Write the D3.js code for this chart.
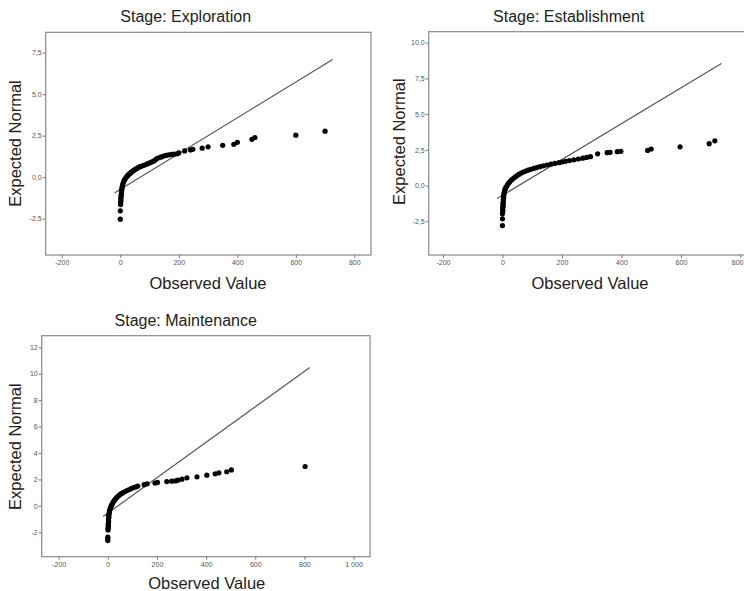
<!DOCTYPE html>
<html>
<head>
<meta charset="utf-8">
<script src="https://cdn.jsdelivr.net/npm/d3@7"></script>
<style>
  body { margin: 0; background: #fff; }
  svg { display: block; font-family: "Liberation Sans", Arial, sans-serif; }
</style>
</head>
<body>
<svg id="chart" width="744" height="591"></svg>
<script>
// observed value, expected normal
let exploration = [
  [0,-2.53],[0,-2.03],[1,-1.65],[1,-1.55],[2,-1.45],[2,-1.35],[2,-1.25],[3,-1.15],[3,-1.05],
  [4,-0.95],[4,-0.85],[5,-0.75],[6,-0.65],[7,-0.55],[8,-0.45],[10,-0.35],[12,-0.25],[14,-0.17],
  [17,-0.1],[20,-0.02],[23,0.05],[26,0.12],[30,0.18],[34,0.24],[38,0.3],[42,0.36],[47,0.42],
  [52,0.48],[58,0.54],[64,0.6],[70,0.65],[78,0.7],[85,0.75],[92,0.8],[100,0.86],[108,0.92],
  [115,0.98],[120,1.05],[125,1.12],[132,1.17],[140,1.22],[148,1.27],[156,1.31],[165,1.34],
  [175,1.37],[185,1.39],[195,1.41],[200,1.47],[220,1.58],[240,1.64],[248,1.68],[280,1.75],
  [300,1.83],[350,1.92],[388,1.98],[400,2.1],[450,2.28],[460,2.39],[600,2.53],[700,2.77]
];
let establishment = [
  [0,-2.8],[0,-2.33],[0,-1.98],[1,-1.8],[1,-1.68],[1,-1.56],[2,-1.44],[2,-1.32],[2,-1.2],
  [3,-1.08],[3,-0.96],[4,-0.84],[4,-0.72],[5,-0.6],[6,-0.48],[7,-0.36],[9,-0.25],[11,-0.15],
  [14,-0.05],[17,0.05],[20,0.15],[24,0.25],[28,0.35],[33,0.44],[38,0.53],[44,0.62],[50,0.72],
  [56,0.8],[63,0.88],[70,0.95],[78,1.02],[86,1.08],[95,1.14],[105,1.2],[115,1.26],[126,1.32],
  [138,1.38],[150,1.44],[163,1.5],[176,1.55],[190,1.6],[200,1.65],[212,1.7],[225,1.75],
  [240,1.8],[255,1.86],[270,1.92],[283,1.97],[296,2.02],[320,2.22],[352,2.3],[362,2.33],
  [386,2.37],[398,2.4],[488,2.46],[500,2.56],[597,2.71],[695,2.93],[714,3.13]
];
let maintenance = [
  [0,-2.63],[0,-2.5],[0,-2.37],[1,-1.82],[1,-1.7],[2,-1.58],[2,-1.46],[2,-1.34],[3,-1.22],
  [3,-1.1],[3,-0.98],[4,-0.86],[4,-0.74],[5,-0.62],[6,-0.5],[7,-0.38],[9,-0.26],[11,-0.15],
  [13,-0.04],[16,0.07],[19,0.18],[22,0.29],[26,0.4],[30,0.5],[35,0.6],[40,0.7],[46,0.8],
  [53,0.9],[60,0.98],[68,1.06],[76,1.14],[85,1.22],[95,1.3],[105,1.38],[115,1.44],[122,1.5],
  [148,1.6],[160,1.67],[192,1.72],[202,1.77],[240,1.84],[260,1.87],[275,1.89],[285,1.94],
  [302,2.02],[322,2.12],[363,2.2],[403,2.32],[437,2.42],[452,2.5],[484,2.58],[503,2.72],[803,2.98]
];

// reference lines (end points)
let lineExploration   = [[-20,-0.95],[726,7.09]];
let lineEstablishment = [[-18,-0.91],[736,8.54]];
let lineMaintenance   = [[-19,-0.81],[822,10.48]];

// ticks
let xTicks12 = [-200,0,200,400,600,800];
let xTicks3  = [-200,0,200,400,600,800,1000];
let yTicks1  = [-2.5,0,2.5,5,7.5];
let yTicks2  = [-2.5,0,2.5,5,7.5,10];
let yTicks3  = [-2,0,2,4,6,8,10,12];

let titles = ["Stage: Exploration","Stage: Establishment","Stage: Maintenance"];

let chart = d3.select("#chart");

let commaFmt = d => d3.format(".1f")(d).replace(".", ",").replace("−", "-");
let intFmt = d => (Math.abs(d) >= 1000 ? d3.format(",")(d).replace(",", " ") : String(d));

function drawPanel(cfg){
    let g = chart.append("g");

    let x = d3.scaleLinear().domain(cfg.xDomain).range([cfg.left, cfg.right]);
    let y = d3.scaleLinear().domain(cfg.yDomain).range([cfg.bottom, cfg.top]);

    // frame
    g.append("rect")
        .attr("x", cfg.left).attr("y", cfg.top)
        .attr("width", cfg.right - cfg.left).attr("height", cfg.bottom - cfg.top)
        .attr("fill", "none").attr("stroke", "#8a8a8a").attr("stroke-width", 1.2);

    // x axis
    let xAxis = d3.axisBottom(x).tickValues(cfg.xTicks).tickSize(3).tickPadding(2).tickFormat(intFmt);
    let xg = g.append("g").attr("transform", "translate(0," + cfg.bottom + ")").call(xAxis);
    xg.select(".domain").remove();

    // y axis
    let yAxis = d3.axisLeft(y).tickValues(cfg.yTicks).tickSize(3).tickPadding(1).tickFormat(cfg.yFmt);
    let yg = g.append("g").attr("transform", "translate(" + cfg.left + ",0)").call(yAxis);
    yg.select(".domain").remove();

    [xg, yg].forEach(a => {
        a.attr("fill", null);
        a.selectAll(".tick line").style("stroke", "#777");
        a.selectAll(".tick text").style("fill", "#555").style("font-size", "7px")
            .style("font-family", "'Liberation Sans', Arial, sans-serif");
    });

    // keep the last x label inside the page
    xg.selectAll(".tick text").each(function(d){
        let px = x(d);
        if (px + 8 > 744) d3.select(this).attr("text-anchor", "end").attr("x", 743 - px);
    });

    // reference line
    g.append("path")
        .datum(cfg.line)
        .attr("fill", "none")
        .attr("stroke", "#555")
        .attr("stroke-width", 1.2)
        .attr("d", d3.line().x(d => x(d[0])).y(d => y(d[1])));

    // points
    g.selectAll("circle.pt")
        .data(cfg.points)
        .enter().append("circle")
        .attr("class", "pt")
        .attr("cx", d => x(d[0]))
        .attr("cy", d => y(d[1]))
        .attr("r", 2.6)
        .attr("fill", "#000");

    // title
    g.append("text")
        .text(cfg.title)
        .attr("x", cfg.titleX).attr("y", cfg.titleY)
        .attr("text-anchor", "middle")
        .style("font-size", "16px").attr("fill", "#222");

    // axis labels
    g.append("text")
        .text("Observed Value")
        .attr("x", cfg.xlabX).attr("y", cfg.xlabY)
        .attr("text-anchor", "middle")
        .style("font-size", "16.5px").attr("fill", "#222");

    g.append("text")
        .text("Expected Normal")
        .attr("transform", "translate(" + cfg.ylabX + "," + cfg.ylabY + ") rotate(-90)")
        .attr("text-anchor", "middle")
        .style("font-size", "16.5px").attr("fill", "#222");
}

drawPanel({
    points: exploration, line: lineExploration, title: titles[0],
    left: 45.7, right: 371, top: 32.3, bottom: 255,
    xDomain: [-255, 857], yDomain: [-4.69, 8.73],
    xTicks: xTicks12, yTicks: yTicks1, yFmt: commaFmt,
    titleX: 185.7, titleY: 22, xlabX: 208, xlabY: 289, ylabX: 21, ylabY: 143.5
});

drawPanel({
    points: establishment, line: lineEstablishment, title: titles[1],
    left: 428.7, right: 755, top: 31.7, bottom: 255,
    xDomain: [-248, 849], yDomain: [-4.86, 10.77],
    xTicks: xTicks12, yTicks: yTicks2, yFmt: commaFmt,
    titleX: 568.7, titleY: 22, xlabX: 590, xlabY: 289, ylabX: 404.7, ylabY: 141.7
});

drawPanel({
    points: maintenance, line: lineMaintenance, title: titles[2],
    left: 41.7, right: 370, top: 335.7, bottom: 556.7,
    xDomain: [-269, 1067], yDomain: [-3.85, 12.88],
    xTicks: xTicks3, yTicks: yTicks3, yFmt: d => String(d),
    titleX: 185.7, titleY: 326, xlabX: 206.7, xlabY: 589, ylabX: 21, ylabY: 446.7
});
</script>
</body>
</html>
